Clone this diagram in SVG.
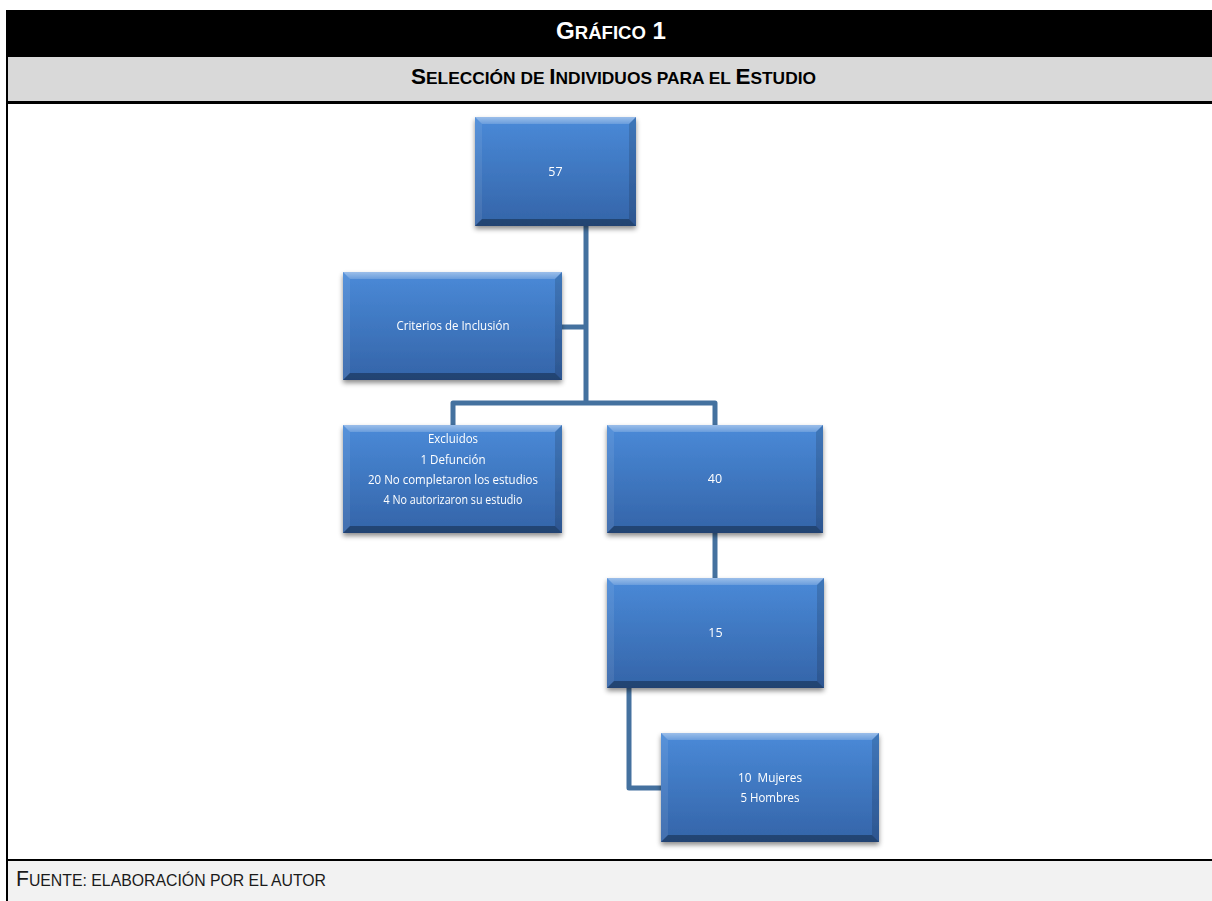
<svg xmlns="http://www.w3.org/2000/svg" width="1212" height="901" viewBox="0 0 1212 901">
<style>
.cap{font-family:"Liberation Sans",Arial,sans-serif;}
.bt{font-family:"Open Sans","Noto Sans",sans-serif;font-size:12.5px;fill:#ffffff;text-anchor:middle;}
.face{fill:url(#faceG);}
.bt-top{fill:url(#topG);}
.bt-left{fill:#ffffff;fill-opacity:0.08;}
.bt-right{fill:#000000;fill-opacity:0.14;}
.bt-bot{fill:#000000;fill-opacity:0.32;}
.conn{fill:none;stroke:#44719f;stroke-width:5;stroke-linejoin:round;stroke-linecap:butt;}
</style>
<defs>
<linearGradient id="faceG" x1="0" y1="0" x2="0" y2="1">
<stop offset="0" stop-color="#4a8ad8"/>
<stop offset="1" stop-color="#3464a8"/>
</linearGradient>
<linearGradient id="topG" x1="0" y1="0" x2="0" y2="1">
<stop offset="0" stop-color="#ffffff" stop-opacity="0.45"/>
<stop offset="1" stop-color="#ffffff" stop-opacity="0.18"/>
</linearGradient>
<filter id="sh" x="-10%" y="-10%" width="120%" height="130%">
<feDropShadow dx="0" dy="3" stdDeviation="2.5" flood-color="#000" flood-opacity="0.45"/>
</filter>
</defs>
<rect x="0" y="0" width="1212" height="901" fill="#ffffff"/>
<g id="frame">
<rect x="6" y="10" width="1206" height="47" fill="#000000"/>
<rect x="6" y="57" width="1206" height="44" fill="#d9d9d9"/>
<rect x="6" y="101" width="1206" height="3" fill="#000000"/>
<rect x="6" y="861" width="1206" height="40" fill="#f2f2f2"/>
<rect x="6" y="859" width="1206" height="2" fill="#000000"/>
<rect x="6" y="10" width="2" height="891" fill="#000000"/>
<text class="cap" x="556" y="39" font-weight="bold" fill="#ffffff" textLength="110" lengthAdjust="spacingAndGlyphs"><tspan font-size="24">G</tspan><tspan font-size="18.5">RÁFICO</tspan><tspan font-size="24"> 1</tspan></text>
<text class="cap" x="411" y="84" font-weight="bold" fill="#000000" textLength="405" lengthAdjust="spacingAndGlyphs"><tspan font-size="22">S</tspan><tspan font-size="17">ELECCIÓN DE </tspan><tspan font-size="22">I</tspan><tspan font-size="17">NDIVIDUOS PARA EL </tspan><tspan font-size="22">E</tspan><tspan font-size="17">STUDIO</tspan></text>
<text class="cap" x="16" y="886" fill="#1a1a1a" textLength="310" lengthAdjust="spacingAndGlyphs"><tspan font-size="22">F</tspan><tspan font-size="16.5">UENTE: ELABORACIÓN POR EL AUTOR</tspan></text>
</g>
<g id="connectors">
<path class="conn" d="M586 226 V403"/>
<path class="conn" d="M562 327 H586"/>
<path class="conn" d="M453 425 V403 H715 V425"/>
<path class="conn" d="M715 533 V578"/>
<path class="conn" d="M629 688 V788 H661"/>
</g>
<g id="node-57" filter="url(#sh)">
<rect class="face" x="475" y="117" width="161" height="109"/>
<polygon class="bt-top" points="475,117 636,117 629,124 482,124"/>
<polygon class="bt-left" points="475,117 482,124 482,219 475,226"/>
<polygon class="bt-right" points="636,117 636,226 629,219 629,124"/>
<polygon class="bt-bot" points="475,226 482,219 629,219 636,226"/>
<text class="bt" x="555.5" y="176">57</text>
</g>
<g id="node-criterios" filter="url(#sh)">
<rect class="face" x="343" y="272" width="219" height="108"/>
<polygon class="bt-top" points="343,272 562,272 555,279 350,279"/>
<polygon class="bt-left" points="343,272 350,279 350,373 343,380"/>
<polygon class="bt-right" points="562,272 562,380 555,373 555,279"/>
<polygon class="bt-bot" points="343,380 350,373 555,373 562,380"/>
<text class="bt" x="453" y="330" textLength="113" lengthAdjust="spacingAndGlyphs">Criterios de Inclusión</text>
</g>
<g id="node-excluidos" filter="url(#sh)">
<rect class="face" x="343" y="425" width="219" height="108"/>
<polygon class="bt-top" points="343,425 562,425 555,432 350,432"/>
<polygon class="bt-left" points="343,425 350,432 350,526 343,533"/>
<polygon class="bt-right" points="562,425 562,533 555,526 555,432"/>
<polygon class="bt-bot" points="343,533 350,526 555,526 562,533"/>
<text class="bt" x="453" y="443" textLength="50" lengthAdjust="spacingAndGlyphs">Excluidos</text>
<text class="bt" x="453" y="464" textLength="65" lengthAdjust="spacingAndGlyphs">1 Defunción</text>
<text class="bt" x="453" y="484" textLength="170" lengthAdjust="spacingAndGlyphs">20 No completaron los estudios</text>
<text class="bt" x="453" y="504" textLength="139" lengthAdjust="spacingAndGlyphs">4 No autorizaron su estudio</text>
</g>
<g id="node-40" filter="url(#sh)">
<rect class="face" x="607" y="425" width="216" height="108"/>
<polygon class="bt-top" points="607,425 823,425 816,432 614,432"/>
<polygon class="bt-left" points="607,425 614,432 614,526 607,533"/>
<polygon class="bt-right" points="823,425 823,533 816,526 816,432"/>
<polygon class="bt-bot" points="607,533 614,526 816,526 823,533"/>
<text class="bt" x="715" y="483">40</text>
</g>
<g id="node-15" filter="url(#sh)">
<rect class="face" x="607" y="578" width="217" height="110"/>
<polygon class="bt-top" points="607,578 824,578 817,585 614,585"/>
<polygon class="bt-left" points="607,578 614,585 614,681 607,688"/>
<polygon class="bt-right" points="824,578 824,688 817,681 817,585"/>
<polygon class="bt-bot" points="607,688 614,681 817,681 824,688"/>
<text class="bt" x="715.5" y="637">15</text>
</g>
<g id="node-mujeres-hombres" filter="url(#sh)">
<rect class="face" x="661" y="733" width="218" height="109"/>
<polygon class="bt-top" points="661,733 879,733 872,740 668,740"/>
<polygon class="bt-left" points="661,733 668,740 668,835 661,842"/>
<polygon class="bt-right" points="879,733 879,842 872,835 872,740"/>
<polygon class="bt-bot" points="661,842 668,835 872,835 879,842"/>
<text class="bt" x="770" y="782" xml:space="preserve" textLength="64" lengthAdjust="spacingAndGlyphs">10  Mujeres</text>
<text class="bt" x="770" y="802" textLength="59" lengthAdjust="spacingAndGlyphs">5 Hombres</text>
</g>
</svg>
